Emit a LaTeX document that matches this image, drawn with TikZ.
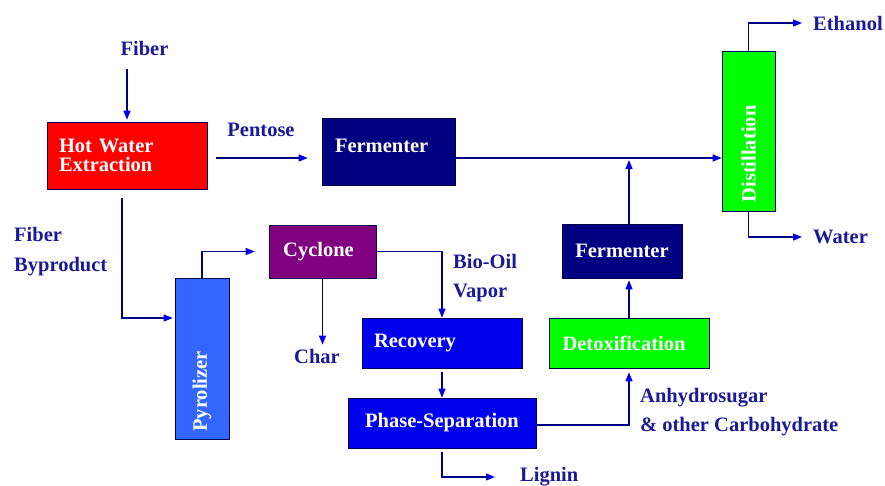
\documentclass[tikz,border=0pt]{standalone}
\usepackage{fontspec}
\setmainfont{Liberation Serif}
\usepackage{graphicx}
\usetikzlibrary{arrows.meta}
\definecolor{navyline}{HTML}{000080}
\definecolor{tipblue}{HTML}{0000E6}
\definecolor{labelblue}{HTML}{1A1A99}
\definecolor{hotred}{HTML}{FF0000}
\definecolor{fermnavy}{HTML}{000080}
\definecolor{cycpurple}{HTML}{800080}
\definecolor{pyrblue}{HTML}{3366FF}
\definecolor{recblue}{HTML}{0000EE}
\definecolor{detgreen}{HTML}{00FF00}
\newcommand{\boxfont}{\fontsize{20.5}{19}\selectfont\bfseries}
\newcommand{\labelfont}{\fontsize{20.5}{29.5}\selectfont\bfseries}
\tikzstyle{procbox} = [draw=navyline!60!black, line width=0.6pt, inner sep=0pt, text=white, font=\boxfont, align=center]
\tikzstyle{flowlabel} = [text=labelblue, font=\labelfont, inner sep=0pt, align=left]
\tikzstyle{flow} = [draw=navyline, line width=1.1pt, -{Triangle[length=9pt,width=7pt,color=tipblue]}]

\begin{document}
\begin{tikzpicture}[x=1pt,y=-1pt]
\useasboundingbox (0,0) rectangle (885,485);
\coordinate (mainy) at (0,158);

\node[procbox, fill=hotred, minimum width=160pt, minimum height=67pt, text width=136pt, align=left] (hwe) at (127,155.5) {Hot Water\\Extraction};
\node[procbox, fill=fermnavy, minimum width=133pt, minimum height=67pt, text width=107pt, align=left] (ferm1) at (388.5,151.5) {\raisebox{12pt}{Fermenter}};
\node[procbox, fill=cycpurple, minimum width=107pt, minimum height=53pt] (cyc) at (322.5,251.5) {Cyclone\hspace*{8pt}};
\node[procbox, fill=pyrblue, minimum width=54pt, minimum height=161pt] (pyr) at (202,358.5) {\rotatebox{90}{Pyrolizer\hspace*{66pt}}};
\node[procbox, fill=recblue, minimum width=160pt, minimum height=50pt, text width=136pt, align=left] (rec) at (442,343) {Recovery};
\node[procbox, fill=recblue, minimum width=188pt, minimum height=50pt] (phase) at (442,423) {Phase-Separation};
\node[procbox, fill=detgreen, minimum width=160pt, minimum height=50pt] (detox) at (629,343) {Detoxification\hspace*{10pt}};
\node[procbox, fill=fermnavy, minimum width=120pt, minimum height=54pt] (ferm2) at (622,251) {Fermenter};
\node[procbox, fill=detgreen, minimum width=53pt, minimum height=160pt] (dist) at (748.5,131) {\rotatebox{90}{Distillation\hspace*{46pt}}};

\node[flowlabel] (fiber) at (144.5,48) {Fiber};
\node[flowlabel] (pentose) at (261,130) {Pentose};
\node[flowlabel, anchor=west] (fiberby) at (14,251.5) {Fiber\\Byproduct};
\node[flowlabel, anchor=west] (biooil) at (453,278) {Bio-Oil\\Vapor};
\node[flowlabel] (char) at (317,356) {Char};
\node[flowlabel, anchor=west] (lignin) at (520,477) {Lignin};
\node[flowlabel, anchor=west] (anhydro) at (640,412) {Anhydrosugar\\\& other Carbohydrate};
\node[flowlabel, anchor=west] (ethanol) at (813,23) {Ethanol};
\node[flowlabel, anchor=west] (water) at (813,237) {Water};

\draw[flow, shorten <=14pt, shorten >=2pt] (fiber.south -| hwe.north) -- (hwe.north);
\draw[flow, shorten <=9pt, shorten >=14pt] (hwe.east |- mainy) -- (ferm1.west |- mainy);
\draw[flow] (ferm1.east |- mainy) -- (dist.west |- mainy);
\draw[flow, shorten >=2pt] (detox.north |- ferm2.north) -- (detox.north |- mainy);
\draw[flow, shorten >=11pt] (dist.north) |- (ethanol.west);
\draw[flow, shorten >=11pt] (dist.south) |- (water.west);
\draw[flow, shorten <=9pt, shorten >=2pt] ([xshift=-5pt]hwe.south) |- ([yshift=40.5pt]pyr.west);
\draw[flow, shorten >=14pt] (pyr.north) |- (cyc.west);
\draw[flow, shorten >=4pt] (cyc.south) -- (cyc.south |- char.north);
\draw[flow] (cyc.east) -| (rec.north);
\draw[flow, shorten <=4pt] (rec.south) -- (phase.north);
\draw[flow, shorten <=4pt, shorten >=25pt] (phase.south) |- (lignin.west);
\draw[flow, shorten >=4pt] ([yshift=-2pt]phase.east) -| (detox.south);
\draw[flow, shorten >=2pt] (detox.north) -- (detox.north |- ferm2.south);
\end{tikzpicture}
\end{document}
